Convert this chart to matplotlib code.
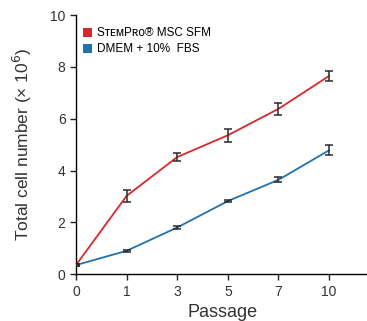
import matplotlib
matplotlib.use("Agg")
import matplotlib.pyplot as plt
from matplotlib.patches import Patch

plt.rcParams['font.family'] = ['Liberation Sans', 'DejaVu Sans']

passages = ['0', '1', '3', '5', '7', '10']
stempro = [0.35, 3.02, 4.52, 5.36, 6.38, 7.65]
stempro_err = [0.05, 0.22, 0.17, 0.24, 0.22, 0.2]
dmem = [0.35, 0.9, 1.8, 2.82, 3.64, 4.78]
dmem_err = [0.04, 0.05, 0.05, 0.05, 0.1, 0.2]
labels = ['S\u1d1b\u1d07\u1d0dP\u0280\u1d0f\u00ae MSC SFM', 'DMEM + 10%  FBS']
red = '#d7282f'
blue = '#1f72ad'

fig = plt.figure(figsize=(3.67, 3.21), dpi=100)
ax = fig.add_axes([0.207, 0.146, 0.80, 0.807])
x = list(range(len(passages)))

ax.plot(x, stempro, color=red, lw=1.3, zorder=2)
ax.errorbar(x, stempro, yerr=stempro_err, fmt='none', ecolor='#2a2a2a', elinewidth=1.1, capsize=3, capthick=1.1, zorder=3)
ax.plot(x, dmem, color=blue, lw=1.3, zorder=2)
ax.errorbar(x, dmem, yerr=dmem_err, fmt='none', ecolor='#2a2a2a', elinewidth=1.1, capsize=3, capthick=1.1, zorder=3)

ax.set_xlim(0, 5.8)
ax.set_ylim(0, 10)
ax.set_xticks(x)
ax.set_xticklabels(passages)
ax.set_yticks([0, 2, 4, 6, 8, 10])
for s in ['top', 'right']:
    ax.spines[s].set_visible(False)
ax.spines['left'].set_linewidth(1.0)
ax.spines['bottom'].set_linewidth(1.0)
ax.tick_params(axis='both', labelsize=10, length=4, width=1.0, colors='#222222', labelcolor='#333333')
ax.set_xlabel('Passage', fontsize=13, color='#333333', labelpad=4)
ax.set_ylabel('Total cell number (\u00d7 10$^6$)', fontsize=12.5, color='#333333', labelpad=12)

handles = [Patch(facecolor=red, edgecolor='none'), Patch(facecolor=blue, edgecolor='none')]
ax.legend(handles, labels, loc='upper left', bbox_to_anchor=(0.0, 0.98), frameon=False,
          fontsize=8.5, handlelength=0.8, handleheight=0.8, handletextpad=0.4, labelspacing=0.35,
          borderaxespad=0.2)

fig.savefig('out.png', dpi=100)
